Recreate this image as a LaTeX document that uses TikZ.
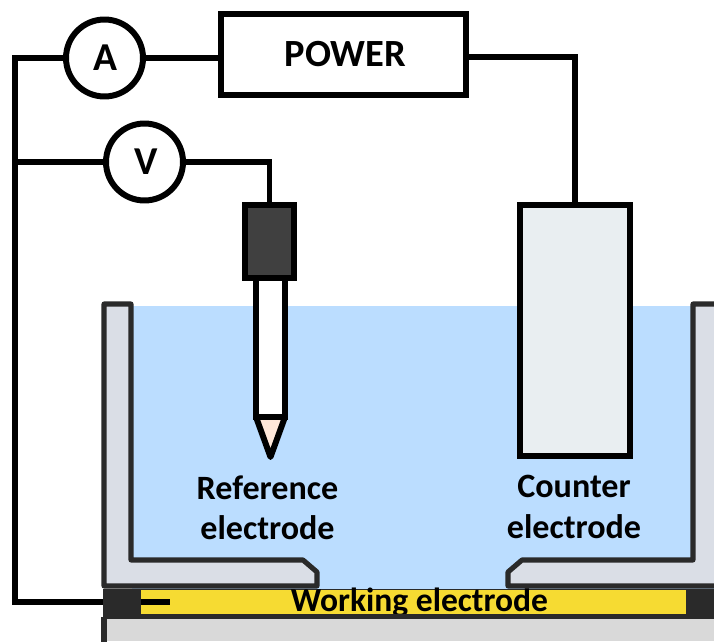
\documentclass[tikz,border=0pt]{standalone}
\usepackage{fontspec}
\setmainfont{Carlito}
\usepackage{xcolor}
\definecolor{cellwater}{RGB}{187, 221, 255}
\definecolor{cellwall}{RGB}{218, 222, 230}
\definecolor{celledge}{RGB}{42, 42, 42}
\definecolor{cellfilm}{RGB}{246, 219, 50}
\definecolor{cellbase}{RGB}{217, 217, 217}
\definecolor{counterfill}{RGB}{233, 238, 241}
\definecolor{headfill}{RGB}{64, 64, 64}
\definecolor{tipfill}{RGB}{255, 232, 218}
\usetikzlibrary{calc,positioning}
\tikzset{
    wire/.style={line width=3.4pt, black},
    meter/.style={draw, circle, wire, fill=white, minimum size=1.54cm, inner sep=0pt, font=\fontsize{22.5}{22.5}\selectfont\bfseries},
    wall/.style={draw=celledge, fill=cellwall, line width=2.9pt, line join=round},
    caption/.style={align=center, inner sep=0pt, font=\fontsize{19.4}{23}\selectfont\bfseries},
}

\begin{document}
\begin{tikzpicture}[x=0.02cm, y=-0.02cm]
    \useasboundingbox (0, 0) rectangle (714, 642);

    % Electrolyte
    \fill[cellwater] (132, 306) rectangle (714, 590);

    % Working electrode stack
    \node[fill=celledge, minimum width=12.22cm, minimum height=0.6cm, inner sep=0pt] (plate) at (408.5, 604) {};
    \node[fill=cellfilm, minimum width=10.9cm, minimum height=0.48cm, inner sep=0pt] (film) at (413.5, 602) {};
    \node[caption, font=\fontsize{19.1}{20}\selectfont\bfseries] (worklabel) at (419.5, 603) {Working electrode};
    \fill[celledge] (film.south west) rectangle (686, 619);
    \fill[cellbase] (104, 619) rectangle (714, 641);
    \draw[celledge, line width=2.9pt] (104, 642) -- (104, 617);

    % Cell walls
    \draw[wall] (104, 304) -- (131, 304) -- (131, 560) -- (303, 560) -- (317, 572) -- (317, 586) -- (104, 586) -- cycle;
    \draw[wall] (725, 304) -- (693, 304) -- (693, 560) -- (522, 560) -- (508, 572) -- (508, 586) -- (725, 586) -- cycle;

    % Instruments
    \node[meter] (ammeter) at (104.5, 58) {\hspace*{0.04cm}A};
    \node[meter] (voltmeter) at (144.5, 162) {\hspace*{0.06cm}V};
    \node[draw, wire, fill=white, minimum width=4.9cm, minimum height=1.62cm, font=\fontsize{21.9}{21.9}\selectfont\bfseries] (power) at (343.5, 54.5) {\hspace*{0.08cm}POWER};

    % Counter electrode
    \node[draw, fill=counterfill, line width=2.9pt, minimum width=2.2cm, minimum height=5.02cm] (counter) at (575, 330.5) {};

    % Reference electrode
    \node[draw, wire, fill=white, outer sep=0pt, minimum width=0.58cm, minimum height=2.8cm] (refbody) at (270.5, 347) {};
    \draw[wire, fill=tipfill, line join=round] (refbody.south west) -- (refbody.south east) -- (270.5, 457) -- cycle;
    \node[draw, wire, fill=headfill, minimum width=0.98cm, minimum height=1.46cm] (refhead) at (269.5, 241.5) {};

    % Wiring
    \coordinate (railbot) at (15, 602);
    \coordinate (railmid) at (15, 162);
    \draw[wire] (plate.west |- railbot) -- (railbot) |- (ammeter.west);
    \draw[wire] (railmid) -- (voltmeter.west);
    \draw[wire] (voltmeter.east) -| (refhead.north);
    \draw[wire] (ammeter.east) -- (power.west |- ammeter);
    \draw[wire] (power.east |- 0, 57) -| (counter.north);
    \draw[wire] (film.west |- railbot) -- ++(29, 0);

    % Labels
    \node[caption] (reflabel) at (267.5, 508) {Reference\\electrode};
    \node[caption] (counterlabel) at (574, 507) {Counter\\electrode};
\end{tikzpicture}
\end{document}
